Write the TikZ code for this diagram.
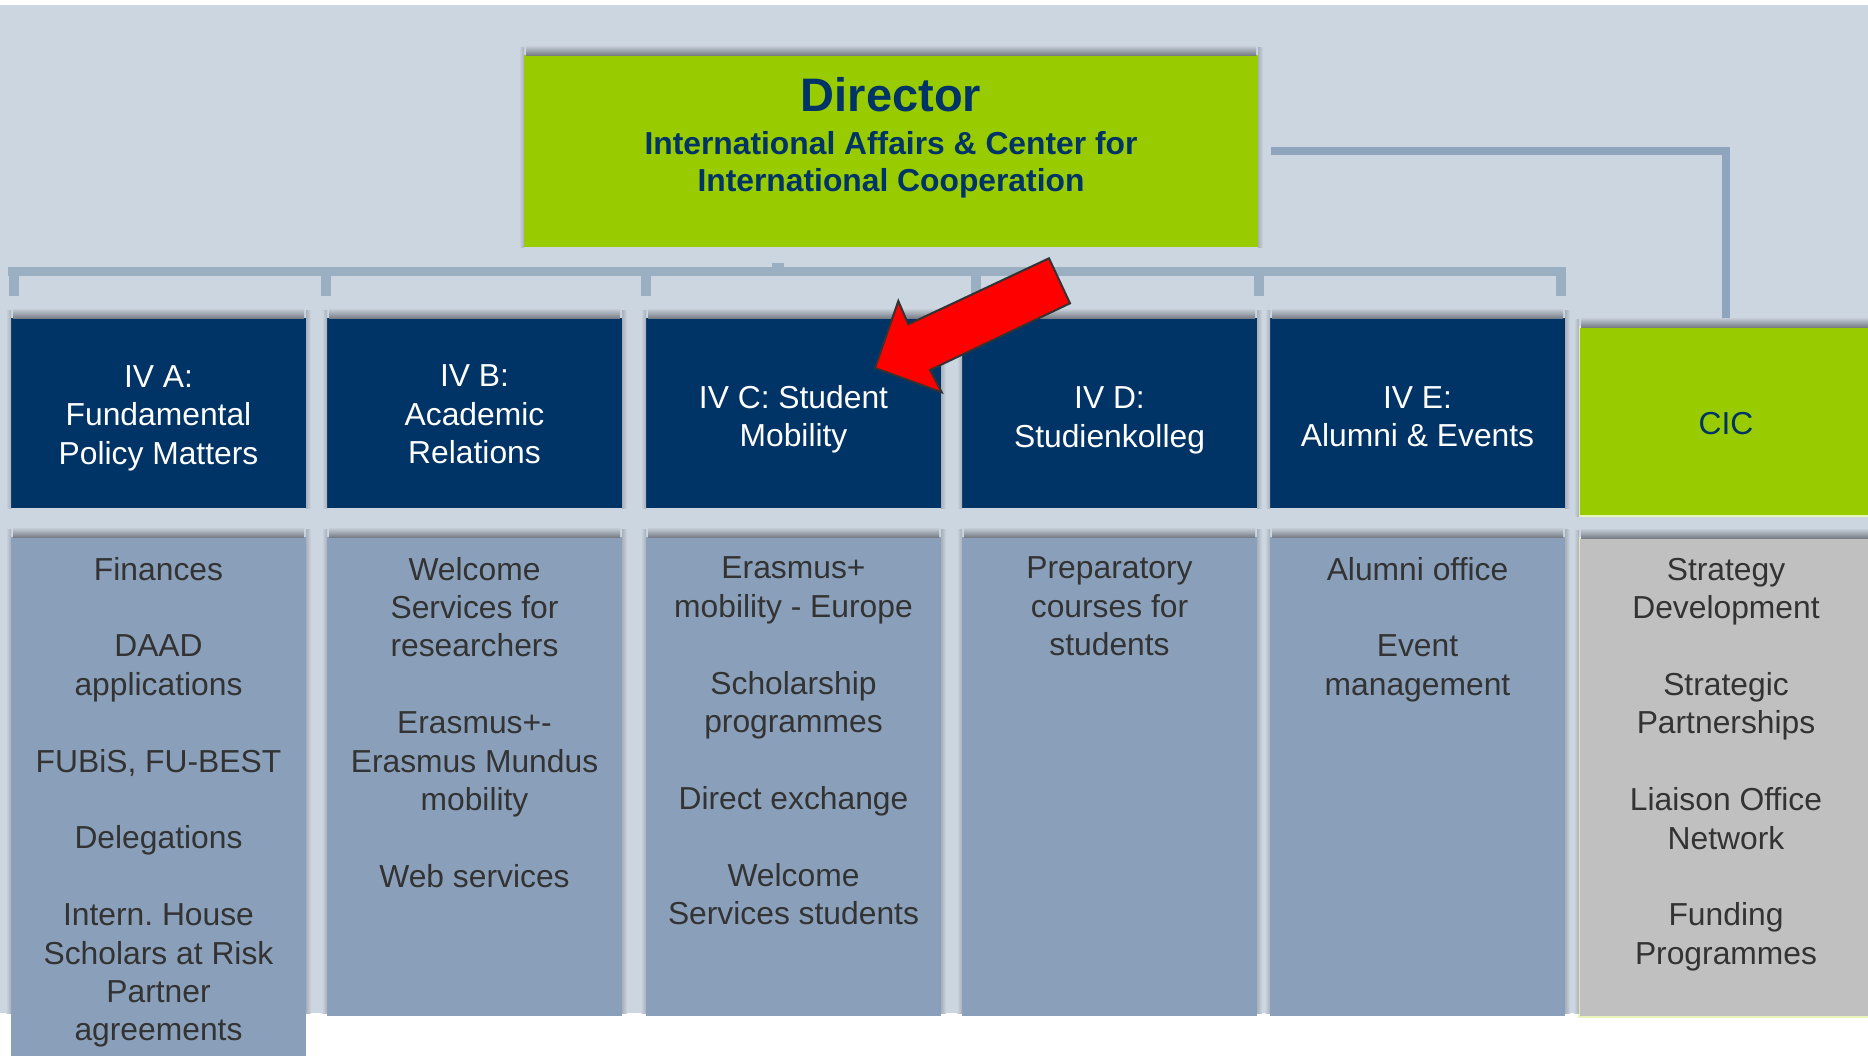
\documentclass[tikz,border=0pt]{standalone}
\usepackage{fontspec}
\setmainfont{Liberation Sans}
\usetikzlibrary{positioning}

\definecolor{bgblue}{RGB}{204,214,224}
\definecolor{dirgreen}{RGB}{153,204,0}
\definecolor{navy}{RGB}{0,51,102}
\definecolor{paneblue}{RGB}{138,160,186}
\definecolor{cicgray}{RGB}{192,192,192}
\definecolor{cicrim}{RGB}{232,244,184}
\definecolor{busblue}{RGB}{155,175,194}
\definecolor{wireblue}{RGB}{143,165,190}
\definecolor{textgray}{RGB}{51,51,51}
\definecolor{shadowgray}{RGB}{122,127,135}
\definecolor{sidegray}{RGB}{168,176,186}

\newcommand{\boxfont}{\fontsize{15.9}{19.2}\selectfont}

\begin{document}
\begin{tikzpicture}[x=0.5pt,y=-0.5pt,every node/.style={outer sep=0pt,inner sep=0pt},
    dirbox/.style={fill=dirgreen,minimum width=367pt,minimum height=96pt},
    dirlabel/.style={text=navy,align=center,font=\fontsize{15.9}{18.6}\selectfont\bfseries},
    dept/.style={fill=navy,minimum width=147.5pt,minimum height=95pt},
    deptlabel/.style={text=white,align=center,font=\boxfont},
    cicbox/.style={fill=dirgreen,draw=cicrim,line width=0.6pt,
    minimum width=147pt,minimum height=94.5pt},
    tasks/.style={fill=paneblue,minimum width=147.5pt,minimum height=239.5pt},
    tasklist/.style={text=textgray,align=center,font=\boxfont},
    bus/.style={draw=busblue,line width=4.5pt},
    drop/.style={draw=busblue,line width=5pt},
    wire/.style={draw=wireblue,line width=4pt},
    topshade/.style={top color=bgblue,bottom color=shadowgray},
    leftshade/.style={left color=bgblue,right color=sidegray},
    rightshade/.style={left color=sidegray,right color=bgblue}]

    \useasboundingbox (0,0) rectangle (1868,1055);
    \clip (0,0) rectangle (1868,1055);
    \fill[white] (0,0) rectangle (1868,1055);
    \fill[bgblue] (0,5) rectangle (1868,1013);

    \node[dirbox] (dir) at (891,151) {};
    \node[dirlabel,below=11.4pt of dir.north] (dirtext)
     {{\fontsize{23.5}{28}\selectfont Director}\\[2.5pt]
      International Affairs \& Center for\\International Cooperation};

    \node[dept] (ivA) at (158.5,413) {};
    \node[dept,right=10.5pt of ivA] (ivB) {};
    \node[dept,right=12pt of ivB] (ivC) {};
    \node[dept,right=10.5pt of ivC] (ivD) {};
    \node[dept,right=6.5pt of ivD] (ivE) {};
    \node[cicbox,right=7pt of ivE,yshift=-4.25pt] (cic) {};

    \node[tasks,below=14.5pt of ivA,minimum height=264pt] (tasksA) {};
    \node[tasks,below=14.5pt of ivB] (tasksB) {};
    \node[tasks,below=14.5pt of ivC] (tasksC) {};
    \node[tasks,below=14.5pt of ivD] (tasksD) {};
    \node[tasks,below=14.5pt of ivE] (tasksE) {};
    \node[tasks,below=11pt of cic,fill=cicgray,draw=cicrim,line width=0.6pt,
    minimum width=147pt] (tasksCIC) {};

    \begin{scope}
     \clip (0,5) rectangle (1868,1013);
     \foreach \b in {dir,ivA,ivB,ivC,ivD,ivE,cic,tasksA,tasksB,tasksC,tasksD,tasksE,tasksCIC}
     {
      \shade[topshade] ([xshift=1pt]\b.north west) rectangle ([xshift=-1pt,yshift=5pt]\b.north east);
      \shade[leftshade] ([xshift=-2.5pt,yshift=4pt]\b.north west) rectangle (\b.south west);
      \shade[rightshade] ([yshift=4pt]\b.north east) rectangle ([xshift=2.5pt]\b.south east);
     }
    \end{scope}

    \node[deptlabel,yshift=-2.5pt] (labA) at (ivA) {IV A:\\Fundamental\\Policy Matters};
    \node[deptlabel,yshift=-0.8pt] (labB) at (ivB) {IV B:\\Academic\\Relations};
    \node[deptlabel,yshift=-3pt] (labC) at (ivC) {IV C: Student\\Mobility};
    \node[deptlabel,yshift=-3.7pt] (labD) at (ivD) {IV D:\\Studienkolleg};
    \node[deptlabel,yshift=-2pt] (labE) at (ivE) {IV E:\\Alumni \& Events};
    \node[deptlabel,text=navy,yshift=-1.2pt] (labCIC) at (cic) {CIC};

    \node[tasklist,below=10pt of tasksA.north] (listA)
     {Finances\\[19.2pt]DAAD\\applications\\[19.2pt]FUBiS, FU-BEST\\[19.2pt]Delegations\\[19.2pt]
      Intern.\ House\\Scholars at Risk\\Partner\\agreements};
    \node[tasklist,below=10pt of tasksB.north] (listB)
     {Welcome\\Services for\\researchers\\[19.2pt]Erasmus+-\\Erasmus Mundus\\mobility\\[19.2pt]
      Web services};
    \node[tasklist,below=10pt of tasksC.north] (listC)
     {Erasmus+\\mobility - Europe\\[19.2pt]Scholarship\\programmes\\[19.2pt]Direct exchange\\[19.2pt]
      Welcome\\Services students};
    \node[tasklist,below=10pt of tasksD.north] (listD) {Preparatory\\courses for\\students};
    \node[tasklist,below=10pt of tasksE.north] (listE) {Alumni office\\[19.2pt]Event\\management};
    \node[tasklist,below=10pt of tasksCIC.north] (listCIC)
     {Strategy\\Development\\[19.2pt]Strategic\\Partnerships\\[19.2pt]Liaison Office\\Network\\[19.2pt]
      Funding\\Programmes};

    \coordinate (busL) at ([xshift=-1.5pt,yshift=23.25pt]ivA.north west);
    \coordinate (busR) at ([xshift=0.5pt,yshift=23.25pt]ivE.north east);
    \draw[bus] (busL) -- (busR);
    \fill[busblue] ([xshift=124pt,yshift=-8pt]dir.south west) rectangle ++(12,6);
    \foreach \b/\dx in {ivA/1.5,ivB/-0.5,ivC/0,ivD/7,ivE/-5.5}
     \draw[drop] ([xshift=\dx pt,yshift=25.5pt]\b.north west) -- ([xshift=\dx pt,yshift=11pt]\b.north west);
    \draw[drop] ([xshift=-2pt,yshift=25.5pt]ivE.north east) -- ([xshift=-2pt,yshift=11pt]ivE.north east);

    \draw[wire] ([xshift=6.5pt]dir.east) -| ([yshift=4.5pt]cic.north);

    \filldraw[fill=red,draw=textgray,line width=1pt,line join=miter]
     (875,368) -- (941.7,392.3) -- (930,370) -- (1070,303.3) -- (1049,258.3)
     -- (908.3,324.3) -- (898.3,301) -- cycle;
\end{tikzpicture}
\end{document}
